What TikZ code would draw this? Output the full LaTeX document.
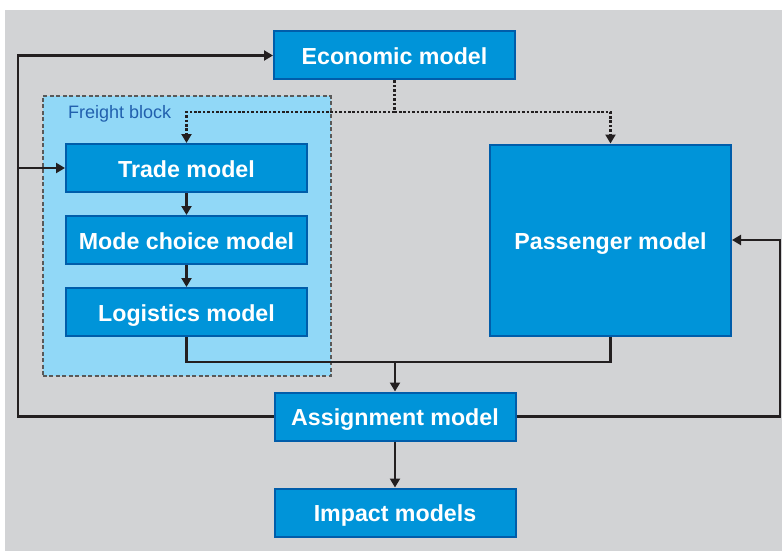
\documentclass[tikz,border=0pt]{standalone}
\usepackage{fontspec}
\setmainfont{Liberation Sans}
\usetikzlibrary{arrows.meta}
\definecolor{bgray}{HTML}{D2D3D5}
\definecolor{boxfill}{HTML}{0094D9}
\definecolor{boxline}{HTML}{005DAA}
\definecolor{freightfill}{HTML}{91D8F7}
\definecolor{freighttext}{HTML}{2160AE}
\definecolor{conn}{HTML}{231F20}
\tikzset{
  model/.style={draw=boxline, line width=2pt, fill=boxfill, text=white,
    font=\fontsize{23.2}{28}\selectfont\bfseries, inner sep=0pt,
    text height=18.6pt, text depth=0pt,
    minimum width=241pt, minimum height=48pt},
  link/.style={draw=conn, line width=2.2pt},
  tip/.style={-{Triangle[length=9pt,width=10pt]}},
  dotline/.style={draw=conn, line width=2.6pt, dash pattern=on 2.6pt off 1.8pt}
}
\begin{document}
\begin{tikzpicture}[x=1pt,y=-1pt]
\useasboundingbox (0,0) rectangle (782,551);
\fill[white] (0,0) rectangle (782,551);
\fill[bgray] (5,10) rectangle (782,551);
% freight block
\node[draw=black!65, line width=2pt, dash pattern=on 4pt off 2.5pt, fill=freightfill,
  minimum width=288pt, minimum height=280pt, inner sep=0pt] (fb) at (186.5,236) {};
\node[anchor=base west, inner sep=0pt, text=freighttext, font=\fontsize{18}{22}\selectfont] (fbl) at (68,118) {Freight block};
% models
\node[model] (econ) at (394.5,55.5) {Economic model};
\node[model] (trade) at (186.5,168) {Trade model};
\node[model] (mode) at (186.5,240) {Mode choice model};
\node[model] (logi) at (186.5,312) {Logistics model};
\node[model, minimum height=191pt] (pass) at (610.5,240) {Passenger model};
\node[model] (assign) at (395,416.5) {Assignment model};
\node[model] (impact) at (395,512.5) {Impact models};
% coordinates
\coordinate (lc) at (18,416.5);
\coordinate (lt) at (18,168);
\coordinate (rc) at (780,416.5);
\coordinate (dj) at (394.5,112);
\coordinate (mj) at (395,362);
% dotted links
\draw[dotline] (econ.south) -- (dj);
\draw[dotline, tip] (dj) -| (trade.north);
\draw[dotline, tip] (dj) -| (pass.north);
% freight chain
\draw[link, tip] (trade.south) -- (mode.north);
\draw[link, tip] (mode.south) -- (logi.north);
% merge
\draw[link] (logi.south) |- (mj);
\draw[link] (pass.south) |- (mj);
\draw[link, tip] (mj) -- (assign.north);
\draw[link, tip] (assign.south) -- (impact.north);
% loops
\draw[link, tip] (assign.west) -- (lc) |- (econ.west);
\draw[link, tip] (lt) -- (trade.west);
\draw[link, tip] (assign.east) -- (rc) |- (pass.east);
\end{tikzpicture}
\end{document}
